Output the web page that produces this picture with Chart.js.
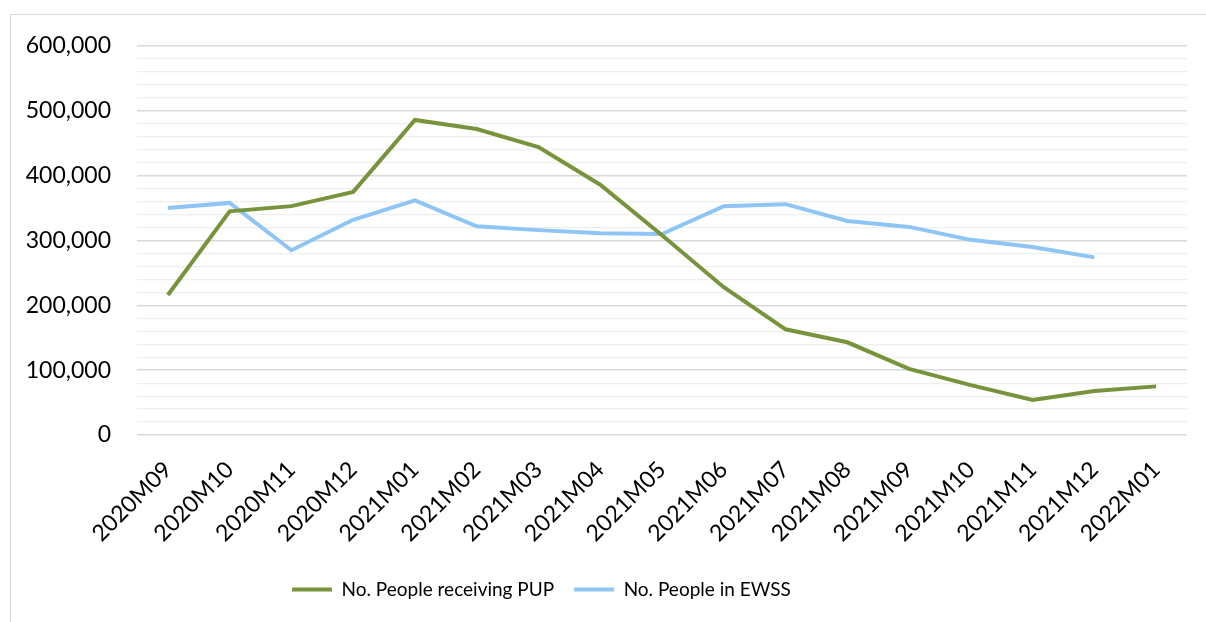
<!DOCTYPE html>
<html>
<head>
<meta charset="utf-8">
<script src="https://cdn.jsdelivr.net/npm/chart.js@4"></script>
<style>
  html, body { margin: 0; padding: 0; background: #fff; overflow: hidden; }
  #frame { position: absolute; left: 10px; top: 14px; width: 1300px; height: 700px; border: 1.5px solid #d9d9d9; }
  #wrap { position: absolute; left: 0; top: 0; width: 1206px; height: 622px; }
</style>
</head>
<body>
<div id="frame"></div>
<div id="wrap"><canvas id="pupChart" width="1206" height="622"></canvas></div>
<script>
const months = [
    "2020M09", "2020M10", "2020M11", "2020M12",
    "2021M01", "2021M02", "2021M03", "2021M04", "2021M05", "2021M06",
    "2021M07", "2021M08", "2021M09", "2021M10", "2021M11", "2021M12",
    "2022M01",
];
const pupPeople = [
    216000, 345000, 353000, 375000, 486000, 472000, 444000, 386000, 308000,
    228000, 163000, 143000, 102000, 77000, 54000, 68000, 75000,
];
const ewssPeople = [
    350000, 358000, 285000, 332000, 362000, 322000, 316000, 311000, 310000,
    353000, 356000, 330000, 321000, 301000, 290000, 274000, null,
];

const FONT = "Lato, 'DejaVu Sans', sans-serif";

// put the legend where excel has it (left of centre, a bit higher)
const legendShift = {
    id: "legendShift",
    afterLayout(chart) {
        const lg = chart.legend;
        const w = lg.right - lg.left;
        const h = lg.bottom - lg.top;
        lg.left = 272;
        lg.right = 272 + w;
        lg.top = 560;
        lg.bottom = 560 + h;
    },
};

const ctx = document.getElementById("pupChart").getContext("2d");

const chart = new Chart(ctx, {
    type: "line",
    data: {
        labels: months,
        datasets: [
            {
                label: "No. People receiving PUP",
                data: pupPeople,
                borderColor: "#77933c",
                backgroundColor: "#77933c",
                borderWidth: 4,
                pointRadius: 0,
                pointStyle: "line",
                tension: 0,
            },
            {
                label: "No. People in EWSS",
                data: ewssPeople,
                borderColor: "#8ec5f5",
                backgroundColor: "#8ec5f5",
                borderWidth: 4,
                pointRadius: 0,
                pointStyle: "line",
                tension: 0,
            },
        ],
    },
    options: {
        responsive: false,
        animation: false,
        layout: {
            padding: { left: 0, right: 19, top: 46, bottom: 2 },
        },
        plugins: {
            tooltip: { enabled: false },
            legend: {
                position: "bottom",
                align: "start",
                labels: {
                    usePointStyle: true,
                    pointStyleWidth: 40,
                    padding: 20,
                    color: "#000",
                    font: { family: FONT, size: 19 },
                },
            },
        },
        scales: {
            x: {
                offset: true,
                grid: { display: false },
                border: { display: false },
                ticks: {
                    color: "#000",
                    font: { family: FONT, size: 23 },
                    minRotation: 45,
                    maxRotation: 45,
                    autoSkip: false,
                    padding: 13,
                },
                afterFit(scale) {
                    scale.height = 622 - 2 - scale.chart.legend.height - 435;
                },
            },
            y: {
                min: 0,
                max: 600000,
                border: { display: false },
                grid: {
                    drawTicks: false,
                    color: (c) => (c.tick && c.tick.value % 100000 === 0 ? "#d9d9d9" : "#eeeeee"),
                    lineWidth: (c) => (c.tick && c.tick.value % 100000 === 0 ? 1.5 : 1.2),
                },
                ticks: {
                    stepSize: 20000,
                    autoSkip: false,
                    padding: 26,
                    color: "#000",
                    font: { family: FONT, size: 23 },
                    callback: (v) => (v % 100000 === 0 ? v.toLocaleString("en-US") : ""),
                },
                afterFit(scale) {
                    scale.width = 137;
                },
            },
        },
    },
    plugins: [legendShift],
});
</script>
</body>
</html>
